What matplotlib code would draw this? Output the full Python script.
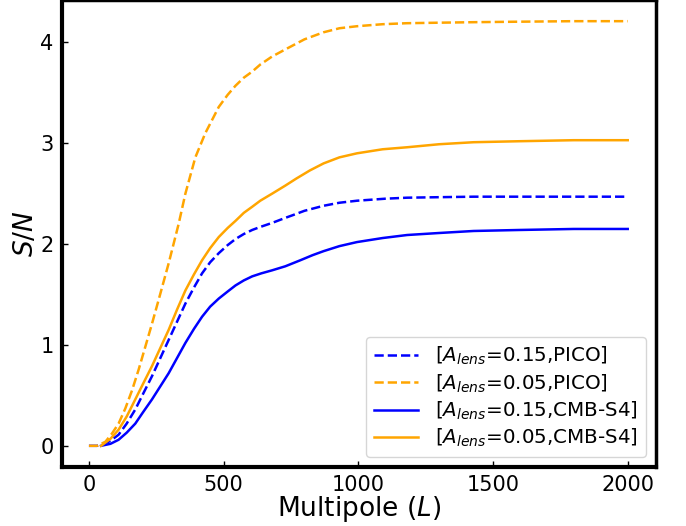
import matplotlib
matplotlib.use("Agg")
import matplotlib.pyplot as plt

# Multipole L and S/N readings for each series
L_pico_015 = [0, 30, 49, 80, 110, 140, 172, 200, 234, 265, 296, 327, 358, 390, 420, 450, 482, 515, 544, 575, 606, 636, 680, 729, 760, 800, 871, 930, 995, 1100, 1181, 1300, 1428, 1600, 1800, 2000]
sn_pico_015 = [0.0, 0.0, 0.01, 0.05, 0.11, 0.22, 0.36, 0.51, 0.69, 0.87, 1.05, 1.23, 1.41, 1.57, 1.71, 1.82, 1.91, 1.99, 2.05, 2.10, 2.14, 2.17, 2.21, 2.26, 2.29, 2.33, 2.38, 2.41, 2.43, 2.45, 2.46, 2.465, 2.47, 2.47, 2.47, 2.47]

L_pico_005 = [0, 30, 61, 85, 110, 135, 160, 185, 209, 234, 259, 296, 333, 358, 395, 432, 482, 515, 544, 575, 606, 636, 680, 729, 800, 871, 930, 995, 1090, 1181, 1300, 1428, 1600, 1800, 2000]
sn_pico_005 = [0.0, 0.0, 0.04, 0.12, 0.22, 0.37, 0.55, 0.76, 0.98, 1.21, 1.45, 1.81, 2.20, 2.50, 2.86, 3.10, 3.36, 3.48, 3.57, 3.65, 3.71, 3.78, 3.86, 3.93, 4.03, 4.10, 4.14, 4.16, 4.18, 4.19, 4.195, 4.20, 4.205, 4.21, 4.21]

L_s4_015 = [45, 80, 110, 140, 172, 200, 234, 265, 296, 327, 358, 390, 420, 450, 482, 515, 544, 575, 606, 640, 680, 729, 785, 830, 871, 930, 995, 1090, 1181, 1300, 1428, 1600, 1800, 2000]
sn_s4_015 = [0.0, 0.02, 0.06, 0.13, 0.22, 0.33, 0.46, 0.59, 0.72, 0.87, 1.02, 1.16, 1.28, 1.38, 1.46, 1.53, 1.59, 1.64, 1.68, 1.71, 1.74, 1.78, 1.84, 1.89, 1.93, 1.98, 2.02, 2.06, 2.09, 2.11, 2.13, 2.14, 2.15, 2.15]

L_s4_005 = [45, 80, 110, 140, 172, 200, 234, 265, 296, 327, 358, 390, 420, 450, 482, 515, 544, 575, 606, 636, 680, 729, 770, 820, 871, 930, 995, 1090, 1181, 1300, 1428, 1600, 1800, 2000]
sn_s4_005 = [0.0, 0.07, 0.16, 0.29, 0.46, 0.61, 0.79, 0.97, 1.15, 1.35, 1.54, 1.70, 1.84, 1.96, 2.07, 2.16, 2.23, 2.31, 2.37, 2.43, 2.50, 2.58, 2.65, 2.73, 2.80, 2.86, 2.90, 2.94, 2.96, 2.99, 3.01, 3.02, 3.03, 3.03]

labels = ["[$A_{lens}$=0.15,PICO]", "[$A_{lens}$=0.05,PICO]",
          "[$A_{lens}$=0.15,CMB-S4]", "[$A_{lens}$=0.05,CMB-S4]"]

fig = plt.figure(figsize=(6.86, 5.26), dpi=100)
ax = fig.add_axes([62/686, 59/526, (656-62)/686, 467/526])

ax.plot(L_pico_015, sn_pico_015, '--', color='blue', lw=1.8, label=labels[0])
ax.plot(L_pico_005, sn_pico_005, '--', color='orange', lw=1.8, label=labels[1])
ax.plot(L_s4_015, sn_s4_015, '-', color='blue', lw=1.8, label=labels[2])
ax.plot(L_s4_005, sn_s4_005, '-', color='orange', lw=1.8, label=labels[3])

ax.set_xlim(-100, 2105)
ax.set_ylim(-0.21, 4.42)
ax.set_xticks([0, 500, 1000, 1500, 2000])
ax.set_yticks([0, 1, 2, 3, 4])
ax.tick_params(direction='in', length=4, width=1, labelsize=15, pad=6)
for s in ['left', 'bottom']:
    ax.spines[s].set_linewidth(3)
for s in ['top', 'right']:
    ax.spines[s].set_linewidth(2.5)

ax.set_xlabel("Multipole ($L$)", fontsize=19, labelpad=-1)
ax.set_ylabel("$S/N$", fontsize=19, labelpad=1)
ax.legend(loc='lower right', fontsize=14.3, handlelength=2.2, labelspacing=0.25,
          borderpad=0.4, handletextpad=0.9)

fig.savefig("out.png", dpi=100)
